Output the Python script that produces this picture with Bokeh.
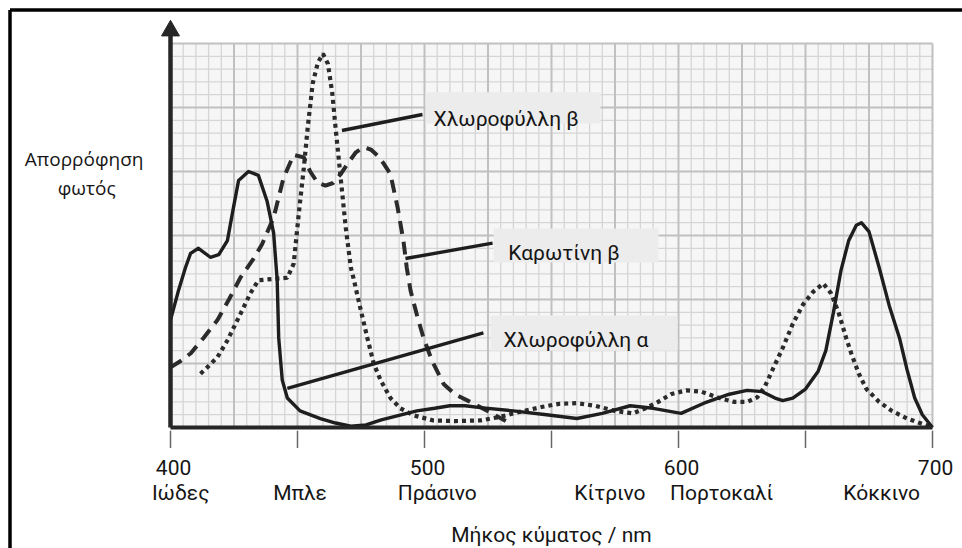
import numpy as np
from bokeh.plotting import figure
from bokeh.models import Range1d
from bokeh.core.properties import value
from bokeh.embed import file_html
from bokeh.resources import INLINE

# ---------------- data ----------------
# Chlorophyll a (solid line)
chl_a_nm = [400, 403, 405.9, 407.9, 411, 415.7, 419, 422.4, 424.8, 426.8, 430.7, 434.6, 438, 440.6,
            442, 442.6, 444, 446, 451, 459, 465, 471, 477, 483, 490, 497, 504, 510, 516, 522, 535,
            548, 560, 570, 581, 590, 601, 610, 620, 627, 633, 638, 641, 645, 650, 655, 658, 661,
            664, 667, 670, 672, 675, 679, 683, 687, 690, 693, 696, 700]
chl_a_abs = [8.4, 10.6, 12.5, 13.6, 14.0, 13.3, 13.5, 14.6, 17.2, 19.3, 20.0, 19.7, 17.7, 15.2,
             11.5, 7.0, 3.7, 2.3, 1.3, 0.7, 0.35, 0.1, 0.2, 0.6, 0.95, 1.3, 1.5, 1.7, 1.7, 1.55, 1.3,
             1.0, 0.7, 1.1, 1.7, 1.5, 1.1, 1.9, 2.6, 2.9, 2.8, 2.3, 2.1, 2.3, 3.0, 4.4, 6.0, 9.0,
             12.3, 14.6, 15.8, 16.0, 15.3, 12.5, 9.5, 7.0, 4.5, 2.3, 1.0, 0.0]

# Chlorophyll b (dotted line)
chl_b_nm = [411.8, 414.5, 418.5, 422.4, 427.6, 431.5, 434.6, 440, 446, 448.5, 450.5, 452.5, 454,
            456, 458, 460, 462, 463.7, 465, 467, 469, 471, 472, 475, 477.5, 480, 482.7, 486.6,
            490.5, 495.7, 503.5, 512, 522, 529, 537, 546, 553, 560, 567, 575, 582, 587, 592, 597,
            603, 609, 616, 622, 627, 631, 634, 637, 641, 645, 649, 653, 657, 660, 663, 666, 668,
            671, 674, 679, 684, 690, 695, 700]
chl_b_abs = [4.2, 4.7, 5.5, 6.8, 8.9, 10.5, 11.5, 11.6, 11.7, 12.8, 16.7, 20.3, 23.4, 26.9, 28.5,
             29.2, 28.4, 26.1, 23.4, 19.5, 15.6, 12.5, 11.7, 9.1, 7.0, 5.0, 3.7, 2.3, 1.5, 0.95,
             0.55, 0.5, 0.55, 0.8, 1.2, 1.6, 1.85, 1.9, 1.7, 1.3, 1.1, 1.5, 2.0, 2.6, 2.9, 2.8,
             2.3, 2.0, 2.0, 2.35, 3.2, 4.5, 6.2, 8.1, 9.6, 10.6, 11.25, 10.5, 9.0, 7.0, 5.8, 4.2,
             3.0, 2.0, 1.3, 0.7, 0.35, 0.0]

# beta-carotene (dashed line)
car_nm = [400, 404, 408, 413, 418.5, 423, 427.5, 432.7, 436, 440.6, 444.5, 448.5, 452.5, 455, 458,
          461, 464, 467, 469.7, 473, 476, 479, 481.5, 484, 486.6, 489.4, 491.7, 493, 494.5, 497,
          499.6, 503, 507.5, 512, 517, 524.8, 532]
car_abs = [4.7, 5.2, 5.8, 7.0, 8.4, 10.0, 11.7, 13.2, 14.3, 16.4, 19.5, 21.3, 21.1, 20.0, 19.1,
           18.9, 19.1, 19.8, 20.6, 21.5, 21.9, 21.7, 21.25, 20.6, 19.8, 17.2, 14.6, 12.5, 10.7,
           8.8, 7.0, 5.2, 3.4, 2.6, 2.1, 1.3, 0.5]

tick_values = [400, 450, 500, 550, 600, 650, 700]
number_values = [400, 500, 600, 700]
number_labels = ["400", "500", "600", "700"]
colour_names = ["Ιώδες", "Μπλε", "Πράσινο", "Κίτρινο", "Πορτοκαλί", "Κόκκινο"]
colour_pos = [404, 451, 505, 573, 617, 680]
pigment_names = ["Χλωροφύλλη β", "Καρωτίνη β", "Χλωροφύλλη α"]
x_title = "Μήκος κύματος / nm"
y_title = ["Απορρόφηση", "φωτός"]

# ---------------- layout ----------------
W, H = 962, 548
PX_NM = 2.54      # pixels per nm
PX_U = 12.8       # pixels per absorbance unit (one small grid square)
X_LEFT_PX = 170   # where 400 nm sits, from the figure's left
Y_BASE_PX = 427   # where 0 sits, from the figure's top

x0 = 400 - X_LEFT_PX / PX_NM
x1 = x0 + W / PX_NM
y1 = Y_BASE_PX / PX_U
y0 = y1 - H / PX_U

p = figure(width=W, height=H, x_range=Range1d(x0, x1), y_range=Range1d(y0, y1),
           output_backend="svg", toolbar_location=None,
           x_axis_location=None, y_axis_location=None, min_border=0,
           outline_line_color=None, background_fill_color="white", border_fill_color="white")
for g in p.grid:
    g.visible = False

NARROW = value("Roboto")
SANS = value("Open Sans")
INK = "#151515"
LINE = "#2b2b2b"
FS = value("21px")

# graph-paper background
XMIN, XMAX, YTOP = 400, 700, 30
p.quad(left=XMIN, right=XMAX, bottom=0, top=YTOP, fill_color="#f6f6f6", line_color=None)
minor_x = [v for v in np.arange(XMIN, XMAX + 1, 5) if v % 25]
major_x = list(np.arange(XMIN, XMAX + 1, 25))
minor_y = [v for v in np.arange(0, YTOP + 1, 1) if v % 5]
major_y = list(np.arange(0, YTOP + 1, 5))
p.segment(x0=minor_x, y0=0, x1=minor_x, y1=YTOP, line_color="#d5d5d5", line_width=1.3)
p.segment(x0=XMIN, y0=minor_y, x1=XMAX, y1=minor_y, line_color="#d5d5d5", line_width=1.3)
p.segment(x0=major_x, y0=0, x1=major_x, y1=YTOP, line_color="#c0c0c0", line_width=2)
p.segment(x0=XMIN, y0=major_y, x1=XMAX, y1=major_y, line_color="#c0c0c0", line_width=2)

# label boxes (light grey)
box_left = [500.4, 527.2, 526.0]
box_right = [569.3, 592.1, 599.6]
box_bottom = [23.75, 12.9, 6.0]
box_top = [26.2, 15.55, 8.75]
p.quad(left=box_left, right=box_right, bottom=box_bottom, top=box_top,
       fill_color="#ececec", line_color=None)

# curves
p.line(car_nm, car_abs, line_color=LINE, line_width=4, line_dash="13 8")
p.line(chl_b_nm, chl_b_abs, line_color=LINE, line_width=4.2, line_dash="4 4")
p.line(chl_a_nm, chl_a_abs, line_color="#1e1e1e", line_width=3.4, line_join="round")

# leader lines
lead_x0 = [467.5, 492.5, 446.0]
lead_y0 = [23.2, 13.2, 3.05]
lead_x1 = [499.2, 526.8, 523.2]
lead_y1 = [24.45, 14.4, 7.4]
p.segment(x0=lead_x0, y0=lead_y0, x1=lead_x1, y1=lead_y1, line_color="#1e1e1e", line_width=3.4)

# pigment labels
p.text(x=[503.5, 533.0, 531.1], y=[24.1, 13.6, 6.8], text=pigment_names,
       text_font=NARROW, text_font_size=value("21px"), text_color=INK,
       text_align="left", text_baseline="alphabetic")

# axes
p.segment(x0=XMIN, y0=0, x1=XMAX, y1=0, line_color="#262626", line_width=4)
p.segment(x0=XMIN, y0=0, x1=XMIN, y1=30.7, line_color="#262626", line_width=4.5)
p.scatter(x=[XMIN], y=[31.0], marker="triangle", size=18, fill_color="#262626", line_color="#262626")

p.segment(x0=tick_values, y0=-0.25, x1=tick_values, y1=-1.6, line_color="#666666", line_width=1.5)
p.text(x=[v + 1.2 for v in number_values], y=-3.1, text=number_labels,
       text_font=NARROW, text_font_size=FS, text_color=INK,
       text_align="center", text_baseline="alphabetic")
p.text(x=colour_pos, y=-5.15, text=colour_names,
       text_font=NARROW, text_font_size=FS, text_color=INK,
       text_align="center", text_baseline="alphabetic")
p.text(x=[(XMIN + XMAX) / 2], y=[-8.4], text=[x_title],
       text_font=NARROW, text_font_size=FS, text_color=INK,
       text_align="center", text_baseline="alphabetic")
p.text(x=[366, 367], y=[21.0, 18.75], text=y_title,
       text_font=SANS, text_font_size=value("19px"), text_color=INK,
       text_align="center", text_baseline="alphabetic")

# outer frame (top and left edges, inset like the scan)
FRAME_PX = 9.5
p.segment(x0=x0 + FRAME_PX / PX_NM, y0=y1 - FRAME_PX / PX_U, x1=x1, y1=y1 - FRAME_PX / PX_U,
          line_color="black", line_width=3.5)
p.segment(x0=x0 + FRAME_PX / PX_NM, y0=y0, x1=x0 + FRAME_PX / PX_NM, y1=y1 - FRAME_PX / PX_U,
          line_color="black", line_width=3.5)

open("out.html", "w").write(file_html(p, INLINE))
